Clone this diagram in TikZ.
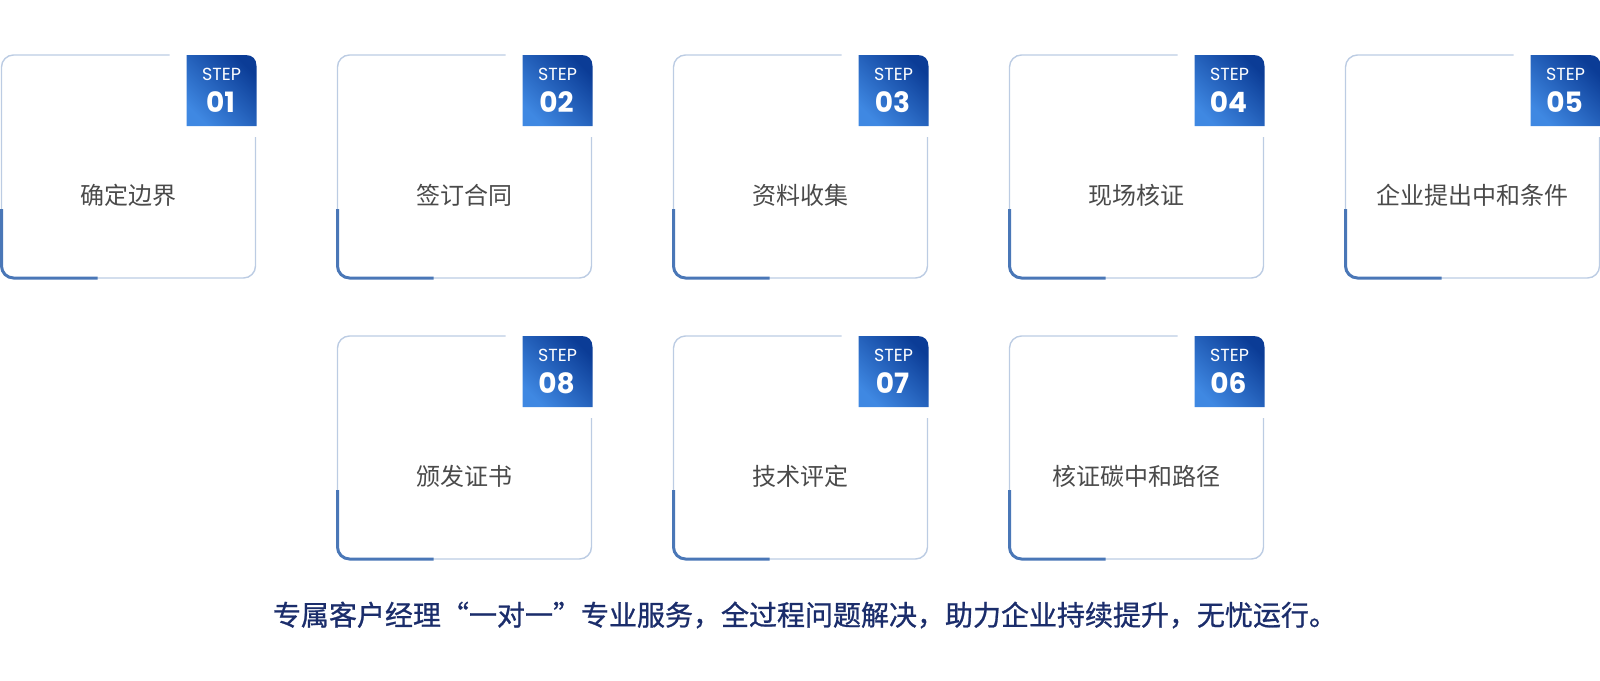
\documentclass[tikz,border=0pt]{standalone}
\usepackage{fontspec}
\setmainfont{Poppins}
\newfontfamily\cjkfont{Noto Sans CJK SC}
\newfontfamily\cjkheavy[FakeBold=0.9]{Noto Sans CJK SC}
\usetikzlibrary{positioning}
\definecolor{edgeblue}{HTML}{BCCCE3}
\definecolor{accentblue}{HTML}{4A77B7}
\definecolor{badgedark}{HTML}{0B3C96}
\definecolor{badgelight}{HTML}{3F88E2}
\definecolor{labelgray}{HTML}{4A4A4A}
\definecolor{slogannavy}{HTML}{1B2D6B}

\begin{document}
\begin{tikzpicture}[x=1pt,y=-1pt,
  cardedge/.style={draw=edgeblue,line width=1.4pt,rounded corners=12},
  cardaccent/.style={draw=accentblue,line width=3pt,rounded corners=12},
  badge/.style={top color=badgedark,bottom color=badgelight,shading angle=-45},
  steptext/.style={text=white,font=\fontsize{17.5}{17.5}\selectfont},
  stepnum/.style={text=white,font=\fontsize{28}{28}\selectfont\bfseries},
  cardlabel/.style={text=labelgray,font=\cjkfont\fontsize{24}{24}\selectfont},
  slogan/.style={text=slogannavy,font=\cjkheavy\fontsize{28}{28}\selectfont}]
\useasboundingbox (0,0) rectangle (1600,680);
\foreach \c/\r/\n/\t in {0/0/01/确定边界,1/0/02/签订合同,2/0/03/资料收集,3/0/04/现场核证,4/0/05/企业提出中和条件,3/1/06/核证碳中和路径,2/1/07/技术评定,1/1/08/颁发证书}{
  \pgfmathsetmacro\xa{1.5+336*\c}
  \pgfmathsetmacro\ya{55+281*\r}
  \draw[cardedge] (\xa+168,\ya) -- (\xa,\ya) -- (\xa,\ya+223) -- (\xa+254,\ya+223) -- (\xa+254,\ya+82);
  \draw[cardaccent] (\xa,\ya+154) -- (\xa,\ya+223) -- (\xa+96,\ya+223);
  \shade[badge] (\xa+185,\ya+71) -- (\xa+185,\ya) -- (\xa+244,\ya) .. controls (\xa+251,\ya) and (\xa+255,\ya+4) .. (\xa+255,\ya+11) -- (\xa+255,\ya+71) -- cycle;
  \node[steptext] (step\n) at (\xa+220,\ya+19.5) {STEP};
  \node[stepnum] (num\n) at (\xa+219,\ya+47.5) {\n};
  \node[cardlabel] (label\n) at (\xa+127,\ya+140) {\t};
}
\node[slogan] (note) at (805,615) {专属客户经理“一对一”专业服务，全过程问题解决，助力企业持续提升，无忧运行。};
\end{tikzpicture}
\end{document}
